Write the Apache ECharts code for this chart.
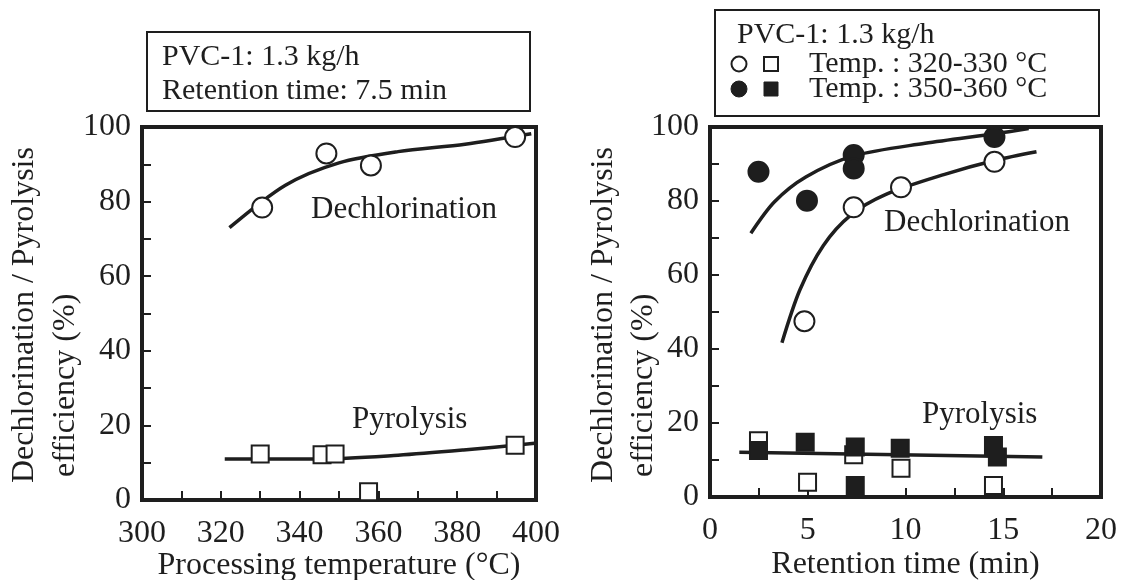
<!DOCTYPE html>
<html>
  <head>
    <meta charset="utf-8" />
    <title>PVC dechlorination / pyrolysis efficiency</title>
    <script src="https://cdn.jsdelivr.net/npm/echarts@6/dist/echarts.min.js"></script>
    <style>
      html, body { margin: 0; padding: 0; background: #fff; }
    </style>
  </head>
  <body>
    <div id="chart" style="width: 1121px; height: 580px"></div>

    <script type="text/javascript">
// Left panel: processing temperature (°C) vs efficiency (%)
const temp_dechlor = [[330.5, 78.4], [346.8, 92.9], [358.1, 89.7], [394.7, 97.3]];
const temp_pyro = [[330, 12.3], [345.7, 12.1], [349, 12.3], [357.5, 2.2], [394.7, 14.7]];
const temp_dechlor_fit = [[322.2, 73], [336.4, 84.4], [350, 90.4], [365, 93.4], [382, 95.4], [398.8, 98.2]];
const temp_pyro_fit = [[321, 11], [345, 11], [365, 12], [381.6, 13.4], [399.7, 15.2]];

// Right panel: retention time (min) vs efficiency (%)
// low = 320-330 °C (open), high = 350-360 °C (filled)
const rt_dechlor_low = [[4.83, 47.5], [7.35, 78.3], [9.77, 83.7], [14.55, 90.6]];
const rt_dechlor_high = [[2.48, 87.9], [4.96, 80.1], [7.35, 92.4], [7.35, 88.8], [14.55, 97.3]];
const rt_pyro_low = [[2.48, 15.2], [4.99, 4.0], [7.35, 11.4], [9.77, 7.8], [14.5, 3.1]];
const rt_pyro_high = [[2.48, 12.6], [4.87, 14.8], [7.43, 13.5], [7.43, 3.1], [9.73, 13.2], [14.5, 13.9], [14.7, 10.8]];
const rt_dechlor_low_fit = [[3.68, 41.7], [4.6, 56], [5.8, 68], [7.2, 76.2], [9, 81.8], [12, 87.2], [14.6, 91], [16.7, 93.3]];
const rt_dechlor_high_fit = [[2.09, 71.3], [3.3, 79.8], [4.9, 86.5], [7.35, 92.2], [11, 95.6], [14.6, 98.2], [16.3, 99.6]];
const rt_pyro_fit = [[1.5, 12.1], [17, 10.8]];

const ink = '#1e1e1e';
const serif = '"Liberation Serif", "DejaVu Serif", serif';

function valueAxis(gridIndex, min, max, interval, name, extra) {
  return Object.assign({
    gridIndex: gridIndex,
    type: 'value',
    min: min,
    max: max,
    interval: interval,
    name: name,
    nameLocation: 'middle',
    nameMoveOverlap: false,
    nameTextStyle: { fontFamily: serif, fontSize: 32, color: ink },
    axisLine: { show: true, onZero: false, lineStyle: { color: ink, width: 4 } },
    axisTick: { show: true, inside: true, length: 9, lineStyle: { color: ink, width: 2 } },
    minorTick: { show: true, splitNumber: 2, length: 9, lineStyle: { color: ink, width: 2 } },
    splitLine: { show: false },
    axisLabel: { fontFamily: serif, fontSize: 32, color: ink, margin: 11, showMinLabel: true, showMaxLabel: true },
  }, extra || {});
}

function xLabel() {
  return { fontFamily: serif, fontSize: 32, color: ink, margin: 18, showMinLabel: true, showMaxLabel: true };
}

function fit(data, xi, yi) {
  return {
    type: 'line', xAxisIndex: xi, yAxisIndex: yi, data: data,
    smooth: 0.3, showSymbol: false, silent: true, z: 2,
    lineStyle: { color: ink, width: 3.5 },
  };
}

function marks(data, xi, yi, symbol, size, filled) {
  return {
    type: 'scatter', xAxisIndex: xi, yAxisIndex: yi, data: data,
    symbol: symbol, symbolSize: size, z: filled ? 4 : 3,
    itemStyle: { color: filled ? ink : '#fff', borderColor: ink, borderWidth: 2, opacity: 1 },
  };
}

function rotatedTitle(x, y, text) {
  return {
    type: 'text', x: x, y: y, rotation: Math.PI / 2,
    style: { text: text, fontFamily: serif, fontSize: 32, fill: ink, align: 'left', verticalAlign: 'middle' },
  };
}

function label(x, y, text, size) {
  return {
    type: 'text', x: x, y: y,
    style: { text: text, fontFamily: serif, fontSize: size, fill: ink, align: 'left', verticalAlign: 'middle' },
  };
}

const option = {
  animation: false,
  backgroundColor: '#fff',
  grid: [
    { left: 142, top: 127, width: 394, height: 373, show: true, borderColor: ink, borderWidth: 4, outerBoundsMode: 'none', containLabel: false },
    { left: 710, top: 127, width: 391, height: 370, show: true, borderColor: ink, borderWidth: 4, outerBoundsMode: 'none', containLabel: false },
  ],
  xAxis: [
    valueAxis(0, 300, 400, 20, 'Processing temperature (°C)', { nameGap: 50, axisLabel: xLabel() }),
    valueAxis(1, 0, 20, 5, 'Retention time (min)', { nameGap: 52, axisLabel: xLabel() }),
  ],
  yAxis: [
    valueAxis(0, 0, 100, 20, '', {}),
    valueAxis(1, 0, 100, 20, '', {}),
  ],
  series: [
    fit(temp_dechlor_fit, 0, 0),
    fit(temp_pyro_fit, 0, 0),
    marks(temp_dechlor, 0, 0, 'circle', 20, false),
    marks(temp_pyro, 0, 0, 'rect', 17, false),

    fit(rt_dechlor_low_fit, 1, 1),
    fit(rt_dechlor_high_fit, 1, 1),
    fit(rt_pyro_fit, 1, 1),
    marks(rt_dechlor_low, 1, 1, 'circle', 20, false),
    marks(rt_dechlor_high, 1, 1, 'circle', 20, true),
    marks(rt_pyro_low, 1, 1, 'rect', 17, false),
    marks(rt_pyro_high, 1, 1, 'rect', 17, true),
  ],
  graphic: [
    // y axis titles (two lines, bottom aligned)
    rotatedTitle(25, 483, 'Dechlorination / Pyrolysis'),
    rotatedTitle(66, 477, 'efficiency (%)'),
    rotatedTitle(604, 483, 'Dechlorination / Pyrolysis'),
    rotatedTitle(644, 477, 'efficiency (%)'),

    // curve labels
    label(311, 210, 'Dechlorination', 31),
    label(352, 420, 'Pyrolysis', 31),
    label(884, 223, 'Dechlorination', 31),
    label(922, 415, 'Pyrolysis', 31),

    // left info box
    { type: 'rect', shape: { x: 147, y: 32, width: 383, height: 79 }, style: { fill: '#fff', stroke: ink, lineWidth: 2 } },
    label(162, 57, 'PVC-1: 1.3 kg/h', 30),
    label(162, 91, 'Retention time: 7.5 min', 30),

    // right info box with symbol key
    { type: 'rect', shape: { x: 715, y: 10, width: 384, height: 106 }, style: { fill: '#fff', stroke: ink, lineWidth: 2 } },
    label(737, 35, 'PVC-1: 1.3 kg/h', 30),
    { type: 'circle', shape: { cx: 739, cy: 64, r: 7.5 }, style: { fill: '#fff', stroke: ink, lineWidth: 2 } },
    { type: 'rect', shape: { x: 764, y: 57, width: 14, height: 14 }, style: { fill: '#fff', stroke: ink, lineWidth: 2 } },
    label(809, 64, 'Temp. : 320-330 °C', 30),
    { type: 'circle', shape: { cx: 739, cy: 89, r: 8 }, style: { fill: ink, stroke: ink, lineWidth: 1 } },
    { type: 'rect', shape: { x: 764, y: 82, width: 14, height: 14 }, style: { fill: ink, stroke: ink, lineWidth: 1 } },
    label(809, 89, 'Temp. : 350-360 °C', 30),
  ],
};

const chart = echarts.init(document.getElementById('chart'));
chart.setOption(option);
    </script>
  </body>
</html>
